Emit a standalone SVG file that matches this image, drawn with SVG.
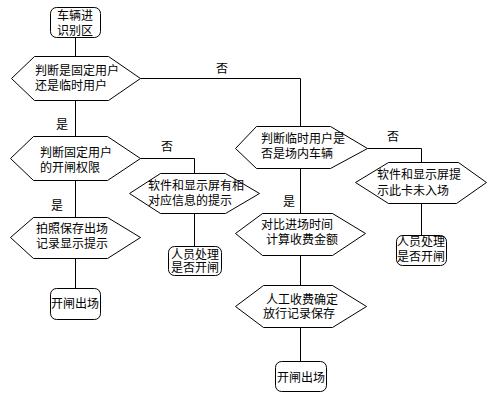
<svg xmlns="http://www.w3.org/2000/svg" width="493" height="402" viewBox="0 0 493 402">
<style>
.s{fill:#fff;stroke:#000;stroke-width:1}
.c{fill:none;stroke:#000;stroke-width:1}
text{font-family:"Noto Sans CJK SC","Noto Sans CJK JP",sans-serif;font-size:12px;fill:#000}
.m{text-anchor:middle}
</style>
<rect width="493" height="402" fill="#fff"/>
<g id="connectors" transform="translate(0.5,0.5)">
<path class="c" d="M75 37V56"/>
<path class="c" d="M75 100V136"/>
<path class="c" d="M140 78H300V126"/>
<path class="c" d="M140 158H194V173"/>
<path class="c" d="M75 180V217"/>
<path class="c" d="M194 213V246"/>
<path class="c" d="M75 258V288"/>
<path class="c" d="M367 148H421V162"/>
<path class="c" d="M300 168V213"/>
<path class="c" d="M421 203V235"/>
<path class="c" d="M300 255V285"/>
<path class="c" d="M300 327V361"/>
</g>
<g id="labels">
<text class="m" x="222" y="72.5">否</text>
<text class="m" x="62" y="129">是</text>
<text class="m" x="167" y="151">否</text>
<text class="m" x="57" y="210">是</text>
<text class="m" x="393" y="141">否</text>
<text class="m" x="289" y="206">是</text>
</g>
<g id="start">
<rect class="s" x="50.5" y="7.5" width="50" height="30" rx="6"/>
<text class="m" x="75" y="19.5">车辆进</text>
<text class="m" x="75" y="34.5">识别区</text>
</g>
<g id="d1">
<polygon class="s" points="11.5,78.5 34.5,56.5 108.5,56.5 140.5,78.5 108.5,100.5 34.5,100.5"/>
<text x="35" y="74.5">判断是固定用户</text>
<text x="35" y="89.5">还是临时用户</text>
</g>
<g id="d2">
<polygon class="s" points="10.5,158.5 33.5,136.5 107.5,136.5 140.5,158.5 107.5,180.5 33.5,180.5"/>
<text x="40" y="156.5">判断固定用户</text>
<text x="40" y="171.5">的开闸权限</text>
</g>
<g id="p1">
<polygon class="s" points="129.5,193.5 160.5,173.5 225.5,173.5 259.5,193.5 225.5,213.5 160.5,213.5"/>
<text x="148" y="189.5">软件和显示屏有相</text>
<text x="148" y="205">对应信息的提示</text>
</g>
<g id="r1">
<rect class="s" x="168.5" y="246.5" width="53" height="29" rx="6"/>
<text class="m" x="195" y="258.5">人员处理</text>
<text class="m" x="195" y="271.5">是否开闸</text>
</g>
<g id="p2">
<polygon class="s" points="10.5,237.5 33.5,217.5 107.5,217.5 140.5,237.5 107.5,258.5 33.5,258.5"/>
<text x="36" y="232.5">拍照保存出场</text>
<text x="36" y="247.5">记录显示提示</text>
</g>
<g id="r2">
<rect class="s" x="50.5" y="288.5" width="50" height="31" rx="6"/>
<text class="m" x="75" y="307.5">开闸出场</text>
</g>
<g id="d3">
<polygon class="s" points="235.5,148.5 256.5,126.5 330.5,126.5 367.5,148.5 330.5,168.5 256.5,168.5"/>
<text x="261" y="142.5">判断临时用户是</text>
<text x="261" y="157.5">否是场内车辆</text>
</g>
<g id="p3">
<polygon class="s" points="355.5,182.5 388.5,162.5 458.5,162.5 486.5,182.5 456.5,203.5 388.5,203.5"/>
<text x="377" y="179">软件和显示屏提</text>
<text x="377" y="195">示此卡未入场</text>
</g>
<g id="r3">
<rect class="s" x="396.5" y="235.5" width="50" height="30" rx="6"/>
<text class="m" x="421" y="245.5">人员处理</text>
<text class="m" x="421" y="260.5">是否开闸</text>
</g>
<g id="p4">
<polygon class="s" points="235.5,233.5 262.5,213.5 332.5,213.5 365.5,233.5 332.5,255.5 262.5,255.5"/>
<text x="261" y="228.5">对比进场时间</text>
<text x="266" y="244">计算收费金额</text>
</g>
<g id="p5">
<polygon class="s" points="235.5,306.5 263.5,285.5 332.5,285.5 366.5,306.5 332.5,327.5 263.5,327.5"/>
<text x="266" y="303.5">人工收费确定</text>
<text x="263" y="318">放行记录保存</text>
</g>
<g id="r4">
<rect class="s" x="275.5" y="361.5" width="51" height="30" rx="6"/>
<text class="m" x="301" y="381.5">开闸出场</text>
</g>
</svg>
